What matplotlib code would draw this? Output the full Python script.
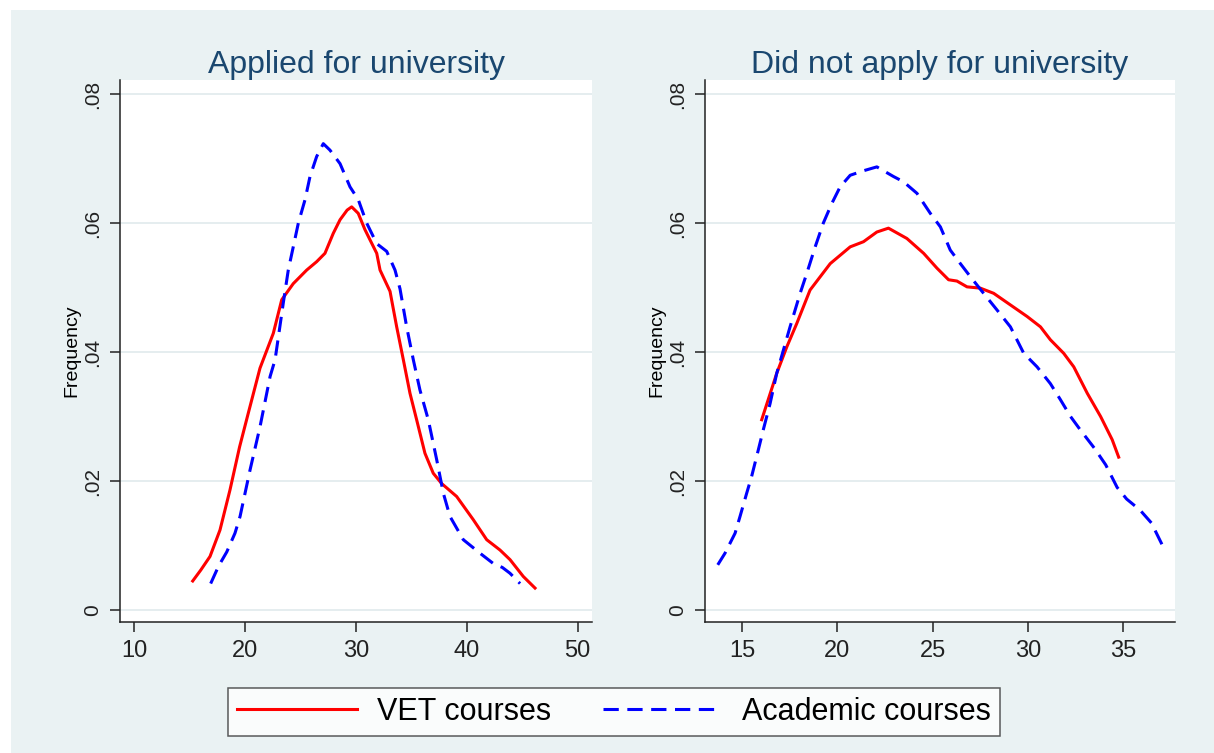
import matplotlib
matplotlib.use('Agg')
import matplotlib.pyplot as plt
from matplotlib.patches import Rectangle

## data (kernel density curves)

# Applied for university
vet_applied_x = [15.27, 16.0, 16.83, 17.73, 18.63, 19.5, 20.28, 21.34, 22.54, 23.3,
                 24.34, 25.55, 26.45, 27.2, 27.95, 28.56, 29.2, 29.61, 30.2, 30.8,
                 31.26, 31.87, 32.17, 33.07, 33.67, 34.27, 34.87, 35.47, 36.22, 36.97,
                 37.73, 39.08, 40.58, 41.79, 42.99, 43.9, 45.09, 46.15]
vet_applied_y = [0.0045, 0.0062, 0.0083, 0.0124, 0.0186, 0.0253, 0.0305, 0.0375, 0.0429, 0.0481,
                 0.0506, 0.0527, 0.0540, 0.0553, 0.0584, 0.0605, 0.0620, 0.0625, 0.0615, 0.0590,
                 0.0574, 0.0553, 0.0527, 0.0494, 0.0439, 0.0388, 0.0336, 0.0295, 0.0243, 0.0212,
                 0.0196, 0.0176, 0.0140, 0.0109, 0.0093, 0.0078, 0.0052, 0.0034]

acad_applied_x = [16.89, 17.6, 18.34, 19.08, 19.54, 19.99, 20.44, 21.34, 22.25, 22.7,
                  23.44, 23.89, 24.34, 24.8, 25.4, 25.85, 26.45, 27.05, 27.65, 28.56,
                  29.46, 30.21, 30.96, 31.87, 32.77, 33.52, 33.97, 34.57, 35.17, 35.77,
                  36.52, 37.28, 37.88, 38.48, 39.68, 41.19, 42.39, 43.2, 43.89, 44.8]
acad_applied_y = [0.0041, 0.0068, 0.0090, 0.0119, 0.0145, 0.0181, 0.0217, 0.0284, 0.0362, 0.0388,
                  0.0476, 0.0527, 0.0563, 0.0600, 0.0636, 0.0672, 0.0703, 0.0723, 0.0713, 0.0692,
                  0.0656, 0.0636, 0.0600, 0.0568, 0.0556, 0.0527, 0.0498, 0.0439, 0.0388, 0.0341,
                  0.0295, 0.0233, 0.0181, 0.0145, 0.0109, 0.0088, 0.0072, 0.0066, 0.0057, 0.0041]

# Did not apply for university
vet_notapp_x = [16.02, 16.81, 17.34, 17.86, 18.56, 19.62, 20.67, 21.37, 22.07, 22.68,
                23.65, 24.53, 25.23, 25.84, 26.28, 26.81, 27.51, 28.21, 29.09, 29.97,
                30.67, 31.19, 31.89, 32.42, 33.13, 33.83, 34.44, 34.78]
vet_notapp_y = [0.0295, 0.0367, 0.0408, 0.0444, 0.0496, 0.0537, 0.0563, 0.0571, 0.0586, 0.0592,
                0.0576, 0.0553, 0.0530, 0.0512, 0.0510, 0.0501, 0.0499, 0.0491, 0.0473, 0.0455,
                0.0439, 0.0419, 0.0398, 0.0377, 0.0336, 0.0300, 0.0264, 0.0237]

acad_notapp_x = [13.71, 14.09, 14.62, 14.88, 15.23, 15.49, 15.84, 16.10, 16.46, 16.81,
                 17.51, 18.04, 18.39, 18.83, 19.26, 19.70, 20.14, 20.67, 21.37, 22.07,
                 22.95, 23.47, 24.18, 24.88, 25.41, 25.93, 26.46, 26.98, 27.68, 28.39,
                 29.09, 29.79, 30.49, 31.19, 31.72, 32.25, 32.77, 33.50, 34.10, 34.70,
                 35.20, 35.90, 36.50, 37.10]
acad_notapp_y = [0.0070, 0.0088, 0.0119, 0.0145, 0.0181, 0.0207, 0.0248, 0.0279, 0.0320, 0.0367,
                 0.0439, 0.0491, 0.0522, 0.0563, 0.0600, 0.0630, 0.0656, 0.0674, 0.0681, 0.0687,
                 0.0672, 0.0664, 0.0646, 0.0615, 0.0594, 0.0558, 0.0537, 0.0517, 0.0491, 0.0465,
                 0.0439, 0.0398, 0.0377, 0.0351, 0.0326, 0.0300, 0.0279, 0.0251, 0.0225, 0.0190,
                 0.0172, 0.0155, 0.0135, 0.0099]

titles = ['Applied for university', 'Did not apply for university']
series_names = ['VET courses', 'Academic courses']
y_ticks = [0, 0.02, 0.04, 0.06, 0.08]
y_ticklabels = ['0', '.02', '.04', '.06', '.08']
x_ticks_left = [10, 20, 30, 40, 50]
x_ticks_right = [15, 20, 25, 30, 35]

## styling

plt.rcParams['font.family'] = ['Liberation Sans', 'DejaVu Sans']
bg = '#EAF2F3'
title_col = '#1A476F'
W, H = 1214, 753

fig = plt.figure(figsize=(W / 100, H / 100), dpi=100)
fig.patch.set_facecolor('white')
# stata style background, small white margin top/left
fig.patches.append(Rectangle((11 / W, 0), 1 - 11 / W, 1 - 10 / H,
                             transform=fig.transFigure, facecolor=bg,
                             edgecolor='none', zorder=-10))

ax1 = fig.add_axes([120 / W, (H - 622) / H, 472 / W, 542 / H])
ax2 = fig.add_axes([705 / W, (H - 622) / H, 470 / W, 542 / H])

panels = [
    (ax1, vet_applied_x, vet_applied_y, acad_applied_x, acad_applied_y, x_ticks_left, (8.71, 51.29)),
    (ax2, vet_notapp_x, vet_notapp_y, acad_notapp_x, acad_notapp_y, x_ticks_right, (13.04, 37.74)),
]

for i, (ax, vx, vy, axx, ayy, xt, xl) in enumerate(panels):
    ax.set_facecolor('white')
    ax.plot(vx, vy, color='#FF0000', lw=2.2, label=series_names[0], zorder=3)
    ax.plot(axx, ayy, color='#0000FF', lw=2.2, linestyle=(0, (5, 2.8)),
            label=series_names[1], zorder=3)
    ax.set_xlim(*xl)
    ax.set_ylim(-0.00186, 0.08217)
    ax.set_xticks(xt)
    ax.set_yticks(y_ticks)
    ax.set_yticklabels(y_ticklabels, rotation=90, va='center')
    ax.grid(axis='y', color='#E3ECEE', lw=1.3)
    ax.set_axisbelow(True)
    for s in ['top', 'right']:
        ax.spines[s].set_visible(False)
    for s in ['left', 'bottom']:
        ax.spines[s].set_color('#222222')
        ax.spines[s].set_linewidth(1.1)
    ax.tick_params(axis='x', labelsize=17, length=7, width=1.1, pad=6, colors='#222222')
    ax.tick_params(axis='y', labelsize=15, length=7, width=1.1, pad=6, colors='#222222')
    ax.set_title(titles[i], fontsize=23, color=title_col, pad=3)
    ax.set_ylabel('Frequency', fontsize=14, labelpad=2)

handles, labels = ax1.get_legend_handles_labels()
leg = fig.legend(handles, labels, loc='center', bbox_to_anchor=(614 / W, 1 - 712 / H),
                 ncol=2, fontsize=22, frameon=True, fancybox=False,
                 handlelength=3.9, handletextpad=0.65, columnspacing=1.7,
                 borderpad=0.3)
leg.get_frame().set_edgecolor('#333333')
leg.get_frame().set_linewidth(1.1)

plt.savefig('out.png', dpi=100, facecolor=fig.get_facecolor())
